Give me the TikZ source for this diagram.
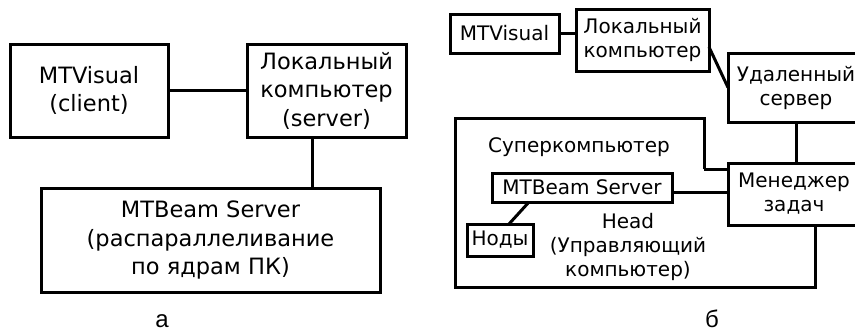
\documentclass[tikz,border=0pt]{standalone}
\usepackage{fontspec}
\setmainfont{DejaVu Sans}
\newfontfamily\capfont{Liberation Sans}
\begin{document}
\begin{tikzpicture}[x=1pt,y=-1pt,
  box/.style={draw,line width=3pt,inner sep=0pt,outer sep=0pt,align=center},
  bigtxt/.style={font=\fontsize{22.5}{28.5}\selectfont},
  smalltxt/.style={font=\fontsize{20}{24}\selectfont},
  wire/.style={line width=3pt},
  subcap/.style={font=\capfont\fontsize{24}{24}\selectfont,anchor=base,inner sep=0pt}]
\useasboundingbox (0,0) rectangle (855,332);
\clip (0,0) rectangle (855,332);

% --- variant (a): client, local server, compute server
\node[box,bigtxt,minimum width=158pt,minimum height=93pt] (mtv) at (89,90.5) {MTVisual\\(client)};
\node[box,bigtxt,minimum width=159pt,minimum height=93pt] (lok) at (326.5,90.5) {Локальный\\компьютер\\(server)};
\node[box,bigtxt,minimum width=339pt,minimum height=104pt] (beam) at (210.5,240) {MTBeam Server\\(распараллеливание\\по ядрам ПК)};
\draw[wire] (mtv.east) -- (lok.west);
\draw[wire] ([xshift=-14.5pt]lok.south) -- ([xshift=-14.5pt]lok.south |- beam.north);
\node[subcap] (capa) at (162,327) {а};

% --- variant (b): remote supercomputer with task manager
\draw[wire] (704,169) -- (704,118) -- (455,118) -- (455,287) -- (815,287) -- (815,225);
\draw[wire] (704,169) -- (728,169);
\node[smalltxt] (super) at (579,147) {Суперкомпьютер};
\node[smalltxt,align=center] (head) at (628,246.5) {Head\\(Управляющий\\компьютер)};

\node[box,smalltxt,fill=white,minimum width=109pt,minimum height=39pt] (rmtv) at (504.5,33.5) {MTVisual};
\node[box,smalltxt,fill=white,minimum width=133pt,minimum height=62pt] (rlok) at (642.5,40) {Локальный\\компьютер};
\node[box,smalltxt,fill=white,minimum width=136pt,minimum height=69pt] (udal) at (796,87.5) {Удаленный\\сервер};
\node[box,smalltxt,fill=white,minimum width=132pt,minimum height=62pt] (men) at (794,194) {Менеджер\\задач};
\node[box,smalltxt,fill=white,minimum width=180pt,minimum height=29pt] (rbeam) at (582,187.5) {MTBeam Server};
\node[box,smalltxt,fill=white,minimum width=66pt,minimum height=32pt] (nody) at (500,240) {Ноды};

\draw[wire] (rmtv.east) -- (rmtv.east -| rlok.west);
\draw[wire] ([yshift=-7pt]rlok.east) -- (udal.west);
\draw[wire] (udal.south) -- (udal.south |- men.north);
\draw[wire] ([yshift=-4.5pt]rbeam.east) -- ([yshift=-4.5pt]rbeam.east -| men.west);
\draw[wire] ([xshift=9pt]nody.north) -- ([xshift=-53pt]rbeam.south);
\node[subcap] (capb) at (712,327) {б};
\end{tikzpicture}
\end{document}
